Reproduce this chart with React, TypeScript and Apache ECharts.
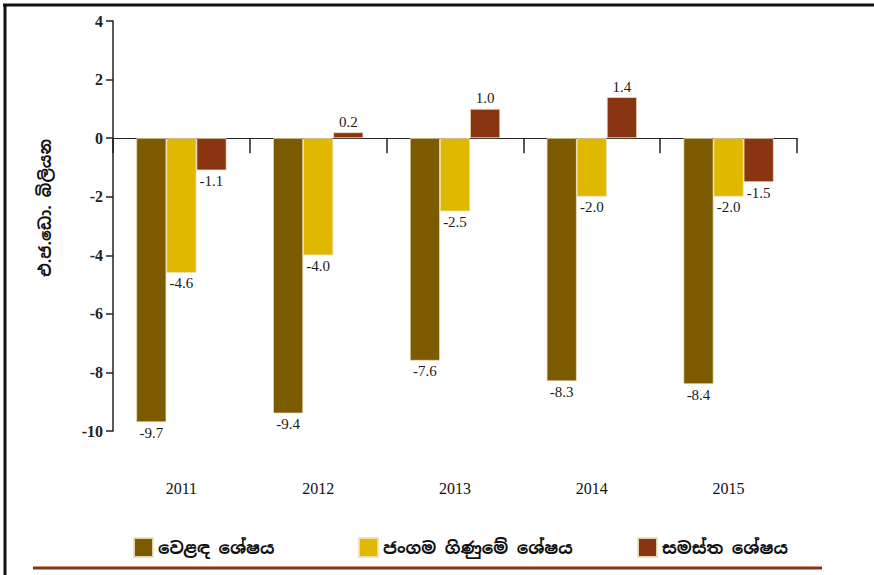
import React, { useEffect, useRef } from "react";
import * as echarts from "echarts";

const years = ["2011", "2012", "2013", "2014", "2015"];
const tradeBalance = [-9.7, -9.4, -7.6, -8.3, -8.4];
const currentAccount = [-4.6, -4.0, -2.5, -2.0, -2.0];
const overallBalance = [-1.1, 0.2, 1.0, 1.4, -1.5];
const seriesNames = ["වෙළඳ ශේෂය", "ජංගම ගිණුමේ ශේෂය", "සමස්ත ශේෂය"];
const seriesColors = ["#7B5A00", "#E1B800", "#8A3512"];
const yAxisTitle = "එ.ජ.ඩො. බිලියන";

const serif = "'Liberation Serif', 'DejaVu Serif', serif";
const sinhalaFont = "'Noto Sans Sinhala', 'Noto Sans', 'DejaVu Sans', sans-serif";

export default function App() {
  const ref = useRef<HTMLDivElement>(null);
  useEffect(() => {
    if (!ref.current) return;
    const chart = echarts.init(ref.current, null, { renderer: "svg" });
    const mk = (name: string, values: number[], color: string) => ({
      name,
      type: "bar",
      xAxisIndex: 0,
      barGap: "0%",
      barCategoryGap: "34%",
      itemStyle: { color, borderColor: "rgba(240,225,190,0.9)", borderWidth: 0.8 },
      label: {
        show: true,
        fontFamily: serif,
        fontSize: 15,
        color: "#1a1a1a",
        distance: 3,
        formatter: (p: any) => Number(p.value).toFixed(1),
      },
      data: values.map((v) => ({
        value: v,
        label: { position: v >= 0 ? "top" : "bottom" },
      })),
    });
    const legendLefts = [133, 358, 637];
    chart.setOption({
      animation: false,
      backgroundColor: "#fff",
      grid: { left: 113, right: 77, top: 21, bottom: 144, containLabel: false },
      legend: seriesNames.map((n, i) => ({
        data: [n],
        left: legendLefts[i],
        top: 537,
        padding: 0,
        itemWidth: 19,
        itemHeight: 19,
        itemGap: 5,
        icon: "rect",
        textStyle: { fontFamily: sinhalaFont, fontSize: 17, fontWeight: "bold", color: "#111" },
      })),
      xAxis: [
        {
          type: "category",
          data: years,
          axisLine: { onZero: true, lineStyle: { color: "#222", width: 1.2 } },
          axisTick: { show: true, length: 15, lineStyle: { color: "#222", width: 1.5 } },
          axisLabel: { show: false },
        },
        {
          type: "category",
          data: years,
          position: "bottom",
          axisLine: { show: false, onZero: false },
          axisTick: { show: false },
          axisLabel: { margin: 49, fontFamily: serif, fontSize: 16, color: "#111" },
        },
      ],
      yAxis: {
        type: "value",
        min: -10,
        max: 4,
        interval: 2,
        splitLine: { show: false },
        axisLine: { show: true, lineStyle: { color: "#222", width: 1.5 } },
        axisTick: { show: true, length: 7, lineStyle: { color: "#222", width: 1.5 } },
        axisLabel: { fontFamily: serif, fontSize: 16, fontWeight: "bold", color: "#222", margin: 10 },
      },
      graphic: [
        { type: "line", shape: { x1: 3, y1: 5, x2: 874, y2: 5 }, style: { stroke: "#111", lineWidth: 3 } },
        { type: "line", shape: { x1: 5, y1: 4, x2: 5, y2: 575 }, style: { stroke: "#111", lineWidth: 3 } },
        { type: "line", shape: { x1: 33, y1: 568, x2: 822, y2: 568 }, style: { stroke: "#8A3512", lineWidth: 3 } },
        {
          type: "text",
          x: 45,
          y: 208,
          rotation: Math.PI / 2,
          style: {
            text: yAxisTitle,
            fontFamily: sinhalaFont,
            fontSize: 16,
            fontWeight: "bold",
            fill: "#111",
            align: "center",
            verticalAlign: "middle",
          },
        },
      ],
      series: [
        mk(seriesNames[0], tradeBalance, seriesColors[0]),
        mk(seriesNames[1], currentAccount, seriesColors[1]),
        mk(seriesNames[2], overallBalance, seriesColors[2]),
      ],
    });
    return () => chart.dispose();
  }, []);
  return (
    <div
      ref={ref}
      style={{ position: "absolute", left: 0, top: 0, width: 874, height: 575 }}
    />
  );
}
